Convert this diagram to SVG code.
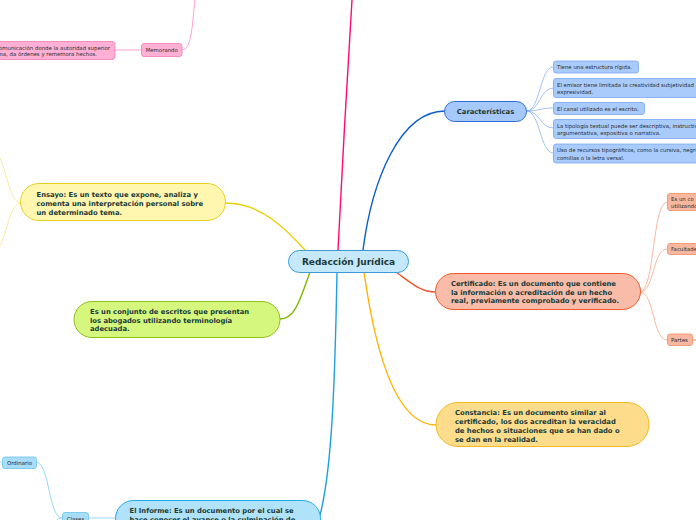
<svg xmlns="http://www.w3.org/2000/svg" width="696" height="520" viewBox="0 0 696 520">
<style>
.t{font-family:"DejaVu Sans","Verdana",sans-serif;font-weight:bold;font-size:6.8px;fill:#193a36}
.s{font-family:"DejaVu Sans","Verdana",sans-serif;font-size:5.4px;fill:#2a2a2a}
.c{fill:none;stroke-linecap:round}
.m{stroke-width:1.4}
.f{stroke-width:0.8}
</style>
<rect width="696" height="520" fill="#ffffff"/>
<g id="connectors">
<path class="c m" stroke="#ff0a78" d="M338,250 C342,170 347,80 352,0"/>
<path class="c m" stroke="#0a5ccc" d="M363,250 C372,180 400,111 445,111"/>
<path class="c m" stroke="#f0562a" d="M396,272 C410,282 420,292 436,292"/>
<path class="c m" stroke="#ffb300" d="M364,272 C375,350 395,425 436,425"/>
<path class="c m" stroke="#e8d000" d="M305,250 C285,228 260,203 226,203"/>
<path class="c m" stroke="#7fb800" d="M310,272 C300,300 295,319 280,319"/>
<path class="c m" stroke="#1ca0e0" d="M337,272 C335,380 332,470 320,515"/>
<path class="c f" stroke="#8ab4f0" d="M527,111 C540,111 540,67 553,67"/>
<path class="c f" stroke="#8ab4f0" d="M527,111 C540,111 540,88 553,88"/>
<path class="c f" stroke="#8ab4f0" d="M527,111 C540,111 540,108 553,108"/>
<path class="c f" stroke="#8ab4f0" d="M527,111 C540,111 540,128 553,128"/>
<path class="c f" stroke="#8ab4f0" d="M527,111 C540,111 540,153 553,153"/>
<path class="c f" stroke="#f8a488" d="M640,292 C655,292 652,202 667,202"/>
<path class="c f" stroke="#f8a488" d="M640,292 C655,292 652,249 667,249"/>
<path class="c f" stroke="#f8a488" d="M640,292 C655,292 652,340 667,340"/>
<path class="c f" stroke="#f0562a" d="M693,340 L696,340"/>
<path class="c f" stroke="#f5e68a" d="M21,203 C10,203 8,175 0,158"/>
<path class="c f" stroke="#f5e68a" d="M21,203 C10,203 8,230 0,246"/>
<path class="c f" stroke="#ff88c4" d="M182,50 C192,50 192,25 195,0"/>
<path class="c f" stroke="#ff88c4" d="M115,50 L141,50"/>
<path class="c f" stroke="#7ccdf2" d="M36,462 C50,462 48,518 62,518"/>
<path class="c f" stroke="#7ccdf2" d="M0,462 L2,462"/>
<path class="c f" stroke="#7ccdf2" d="M88,518 L115,518"/>
<path class="c f" stroke="#7ccdf2" d="M62,518 C59,518 58,519 57,520"/>
</g>
<g id="central">
<rect x="288.5" y="250.5" width="120" height="22" rx="11" fill="#c6e8fb" stroke="#3a9bd8"/>
<text x="348.5" y="264.5" text-anchor="middle" class="t" style="font-size:9px">Redacción Jurídica</text>
</g>
<g id="caracteristicas">
<rect x="444.5" y="101.5" width="82" height="20" rx="10" fill="#a6c8fa" stroke="#2a6fd6"/>
<text x="485.5" y="114" text-anchor="middle" class="t" style="font-size:6.8px">Características</text>
</g>
<g id="car1"><rect x="553.5" y="61" width="85" height="12" rx="2.5" fill="#a8cbfb" stroke="#79a6f0" stroke-width="0.8"/><text x="557" y="69" class="s">Tiene una estructura rígida.</text></g>
<g id="car2"><rect x="553.5" y="78.5" width="160" height="19" rx="2.5" fill="#a8cbfb" stroke="#79a6f0" stroke-width="0.8"/><text x="557" y="87" class="s">El emisor tiene limitada la creatividad subjetividad</text><text x="557" y="94" class="s">expresividad.</text></g>
<g id="car3"><rect x="553.5" y="102.5" width="91" height="12" rx="2.5" fill="#a8cbfb" stroke="#79a6f0" stroke-width="0.8"/><text x="557" y="110.5" class="s">El canal utilizado es el escrito.</text></g>
<g id="car4"><rect x="553.5" y="119.5" width="160" height="19" rx="2.5" fill="#a8cbfb" stroke="#79a6f0" stroke-width="0.8"/><text x="557" y="127.5" class="s">La tipología textual puede ser descriptiva, instructiva,</text><text x="557" y="135" class="s">argumentativa, expositiva o narrativa.</text></g>
<g id="car5"><rect x="553.5" y="144" width="160" height="19" rx="2.5" fill="#a8cbfb" stroke="#79a6f0" stroke-width="0.8"/><text x="557" y="152" class="s">Uso de recursos tipográficos, como la cursiva, negrita,</text><text x="557" y="159.5" class="s">comillas o la letra versal.</text></g>
<g id="certificado">
<rect x="435.5" y="273.5" width="205" height="36" rx="18" fill="#f8bca8" stroke="#f05a28"/>
<text x="451" y="286" class="t">Certificado: Es un documento que contiene</text>
<text x="451" y="294.5" class="t">la información o acreditación de un hecho</text>
<text x="451" y="303" class="t">real, previamente comprobado y verificado.</text>
</g>
<g id="cert1"><rect x="667.5" y="193.5" width="40" height="17" rx="2.5" fill="#f8b8a0" stroke="#f08a68" stroke-width="0.8"/><text x="671" y="201" class="s">Es un co</text><text x="671" y="207.5" class="s">utilizando</text></g>
<g id="cert2"><rect x="667.5" y="243.5" width="40" height="11" rx="2.5" fill="#f8b8a0" stroke="#f08a68" stroke-width="0.8"/><text x="671" y="251" class="s">Facultades</text></g>
<g id="cert3"><rect x="667.5" y="334" width="25" height="11.5" rx="2.5" fill="#f8b8a0" stroke="#f08a68" stroke-width="0.8"/><text x="671" y="342" class="s">Partes</text></g>
<g id="constancia">
<rect x="436" y="402.5" width="213" height="44" rx="22" fill="#fddc8c" stroke="#f5b820"/>
<text x="455" y="414.5" class="t">Constancia: Es un documento similar al</text>
<text x="455" y="423.5" class="t">certificado, los dos acreditan la veracidad</text>
<text x="455" y="432.5" class="t">de hechos o situaciones que se han dado o</text>
<text x="455" y="441.5" class="t">se dan en la realidad.</text>
</g>
<g id="ensayo">
<rect x="20.5" y="183.5" width="205" height="37" rx="18.5" fill="#fff7b0" stroke="#e6d020"/>
<text x="36.5" y="196.5" class="t">Ensayo: Es un texto que expone, analiza y</text>
<text x="36.5" y="205.5" class="t">comenta una interpretación personal sobre</text>
<text x="36.5" y="214.5" class="t">un determinado tema.</text>
</g>
<g id="conjunto">
<rect x="74" y="301.5" width="206" height="36" rx="18" fill="#d6f77e" stroke="#8cc21a"/>
<text x="90" y="314" class="t">Es un conjunto de escritos que presentan</text>
<text x="90" y="322.5" class="t">los abogados utilizando terminología</text>
<text x="90" y="331" class="t">adecuada.</text>
</g>
<g id="informe">
<rect x="115.5" y="500.5" width="205" height="40" rx="18" fill="#b0e2fa" stroke="#24a8e8"/>
<text x="129.5" y="513" class="t">El Informe: Es un documento por el cual se</text>
<text x="129.5" y="522" class="t">hace conocer el avance o la culminación de</text>
</g>
<g id="clases"><rect x="62.5" y="512.5" width="26" height="11" rx="2.5" fill="#a8dcf7" stroke="#6cc4f0" stroke-width="0.8"/><text x="75.5" y="520.5" text-anchor="middle" class="s">Clases</text></g>
<g id="ordinario"><rect x="2.5" y="457" width="34" height="11.5" rx="2.5" fill="#a8dcf7" stroke="#6cc4f0" stroke-width="0.8"/><text x="19.5" y="465" text-anchor="middle" class="s">Ordinario</text></g>
<g id="memorando"><rect x="141.5" y="43.5" width="40.5" height="13" rx="2.5" fill="#ffb0d4" stroke="#f37ab6" stroke-width="0.8"/><text x="161.75" y="52" text-anchor="middle" class="s">Memorando</text></g>
<g id="memo-def"><rect x="-100" y="41.5" width="215" height="18" rx="3" fill="#ffb0d4" stroke="#f37ab6" stroke-width="0.8"/><text x="110" y="49.5" text-anchor="end" class="s">comunicación donde la autoridad superior</text><text x="97" y="56" text-anchor="end" class="s">informa, da órdenes y rememora hechos.</text></g>
</svg>
